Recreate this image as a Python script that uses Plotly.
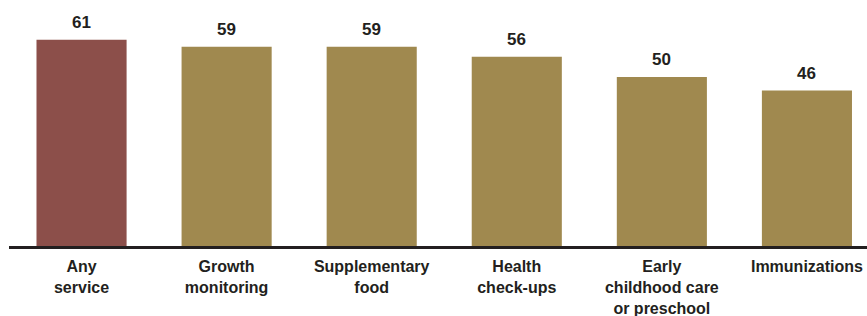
import plotly.graph_objects as go

categories = ["<b>Any<br>service</b>", "<b>Growth<br>monitoring</b>", "<b>Supplementary<br>food</b>",
              "<b>Health<br>check-ups</b>", "<b>Early<br>childhood care<br>or preschool</b>", "<b>Immunizations</b>"]
values = [61, 59, 59, 56, 50, 46]
colors = ["#8C4F4A", "#A0894F", "#A0894F", "#A0894F", "#A0894F", "#A0894F"]

FONT = "Liberation Sans, Arial, sans-serif"
fig = go.Figure(go.Bar(
    x=categories, y=values, marker=dict(color=colors, line=dict(width=0)),
    hoverinfo="skip",
))
for c, v in zip(categories, values):
    fig.add_annotation(x=c, y=v, text=f"<b>{v}</b>", showarrow=False, yanchor="bottom",
                       yshift=6, font=dict(size=17, color="#231F20", family=FONT))
fig.update_layout(
    width=867, height=316, margin=dict(l=9, r=0, t=0, b=70, autoexpand=False),
    paper_bgcolor="white", plot_bgcolor="white", showlegend=False,
    bargap=0.379,
    font=dict(family=FONT, size=16, color="#231F20"),
    xaxis=dict(range=[-0.5, 5.414], showline=True, linecolor="#231F20", linewidth=3,
               ticks="", showgrid=False, tickfont=dict(size=16), automargin=False,
               ticklabelstandoff=4),
    yaxis=dict(range=[0, 72.8], visible=False, showgrid=False, automargin=False),
)
fig.write_html("out.html", config={"displayModeBar": False, "staticPlot": True},
               post_script="document.body.style.margin='0';document.body.style.overflow='hidden';")
